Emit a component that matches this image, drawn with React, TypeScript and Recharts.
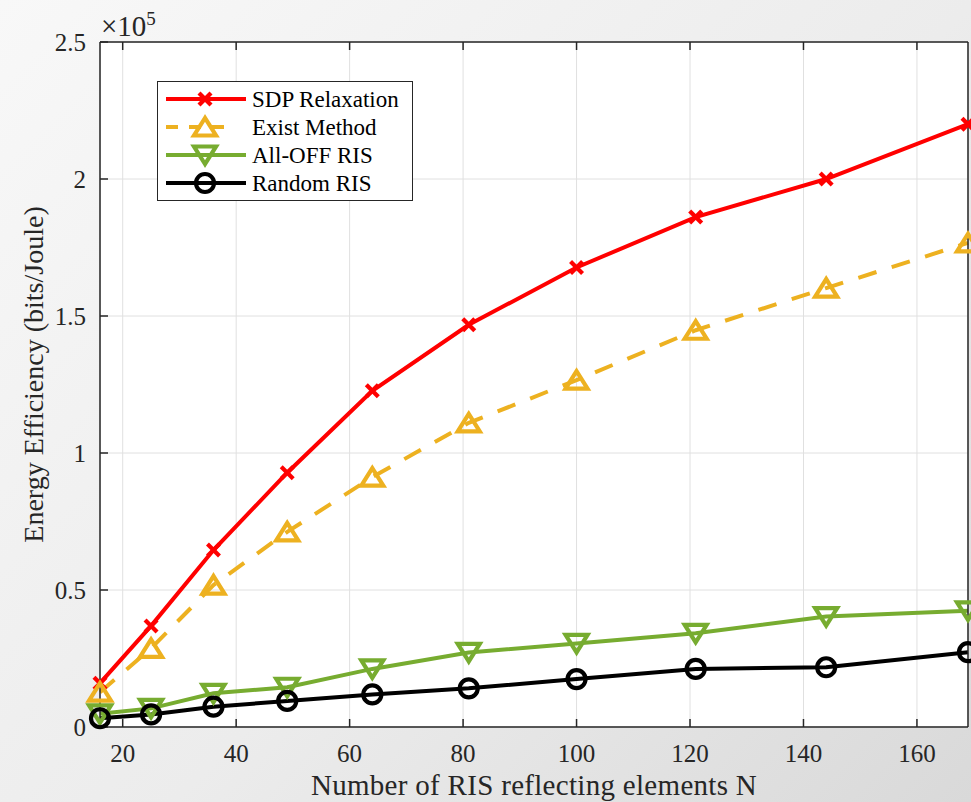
import React from "react";
import {
  LineChart,
  Line,
  XAxis,
  YAxis,
  CartesianGrid,
  Legend,
  Label,
} from "recharts";

const N_VALUES = [16, 25, 36, 49, 64, 81, 100, 121, 144, 169];
const SDP_RELAXATION = [16000, 36900, 64600, 92800, 122700, 146800, 167700, 186100, 200000, 220000];
const EXIST_METHOD = [12700, 28700, 51800, 71200, 91200, 111000, 126600, 144800, 160200, 176700];
const ALL_OFF_RIS = [4800, 6800, 12300, 14500, 21200, 27200, 30500, 34200, 40300, 42400];
const RANDOM_RIS = [3200, 4600, 7400, 9500, 11900, 14100, 17500, 21200, 21800, 27300];

const X_TICKS = [20, 40, 60, 80, 100, 120, 140, 160];
const Y_TICKS = [0, 50000, 100000, 150000, 200000, 250000];

const FONT = '"Liberation Serif", "Times New Roman", serif';
const AXIS_COLOR = "#262626";

const data = N_VALUES.map((n, i) => ({
  n,
  sdp: SDP_RELAXATION[i],
  exist: EXIST_METHOD[i],
  off: ALL_OFF_RIS[i],
  rnd: RANDOM_RIS[i],
}));

type MarkerKind = "cross" | "up" | "down" | "circle";

function Marker({ kind, cx, cy, color }: { kind: MarkerKind; cx: number; cy: number; color: string }) {
  const sw = 4.2;
  if (kind === "cross") {
    const s = 6;
    return (
      <g stroke={color} strokeWidth={sw}>
        <line x1={cx - s} y1={cy - s} x2={cx + s} y2={cy + s} />
        <line x1={cx - s} y1={cy + s} x2={cx + s} y2={cy - s} />
      </g>
    );
  }
  if (kind === "up") {
    return (
      <polygon
        points={`${cx},${cy - 9} ${cx - 11},${cy + 8.5} ${cx + 11},${cy + 8.5}`}
        fill="none"
        stroke={color}
        strokeWidth={sw}
      />
    );
  }
  if (kind === "down") {
    return (
      <polygon
        points={`${cx},${cy + 9} ${cx - 11},${cy - 8.5} ${cx + 11},${cy - 8.5}`}
        fill="none"
        stroke={color}
        strokeWidth={sw}
      />
    );
  }
  return <circle cx={cx} cy={cy} r={9} fill="none" stroke={color} strokeWidth={sw} />;
}

const SERIES = [
  { key: "sdp", name: "SDP Relaxation", color: "#ff0000", marker: "cross" as MarkerKind, dash: undefined },
  { key: "exist", name: "Exist Method", color: "#EDB120", marker: "up" as MarkerKind, dash: "19 16" },
  { key: "off", name: "All-OFF RIS", color: "#77AC30", marker: "down" as MarkerKind, dash: undefined },
  { key: "rnd", name: "Random RIS", color: "#000000", marker: "circle" as MarkerKind, dash: undefined },
];

function LegendBox() {
  return (
    <div
      style={{
        width: 254,
        background: "#fff",
        border: `1px solid ${AXIS_COLOR}`,
        padding: "3px 0",
        fontFamily: FONT,
        fontSize: 23,
        color: "#000",
        lineHeight: 1,
      }}
    >
      {SERIES.map((s) => (
        <div key={s.key} style={{ display: "flex", alignItems: "center", height: 28 }}>
          <svg width={94} height={28} style={{ flexShrink: 0 }}>
            <line
              x1={8}
              y1={14}
              x2={s.dash ? 68 : 88}
              y2={14}
              stroke={s.color}
              strokeWidth={4}
              strokeDasharray={s.dash ? "12 11" : undefined}
            />
            <Marker kind={s.marker} cx={47} cy={14} color={s.color} />
          </svg>
          <span style={{ whiteSpace: "nowrap" }}>{s.name}</span>
        </div>
      ))}
    </div>
  );
}

export default function App() {
  const tickStyle = { fontFamily: FONT, fontSize: 25, fill: AXIS_COLOR };
  return (
    <div
      style={{
        position: "absolute",
        left: 0,
        top: 0,
        width: 971,
        height: 802,
        background: "linear-gradient(135deg, #f8f8f8 0%, #ececec 55%, #d9d9d9 100%)",
        overflow: "hidden",
      }}
    >
      <LineChart width={971} height={802} data={data} margin={{ top: 30, right: 0, bottom: 0, left: 0 }}>
        <CartesianGrid stroke="#e0e0e0" strokeWidth={1} fill="#ffffff" xAxisId="b" yAxisId="l" />
        <XAxis
          xAxisId="b"
          dataKey="n"
          type="number"
          domain={[16, 169]}
          ticks={X_TICKS}
          interval={0}
          height={75}
          tickSize={-8}
          tickMargin={25}
          stroke={AXIS_COLOR}
          strokeWidth={1.5}
          tick={tickStyle}
        >
          <Label
            value="Number of RIS reflecting elements N"
            position="insideBottom"
            offset={7}
            style={{ fontFamily: FONT, fontSize: 29, fill: AXIS_COLOR, letterSpacing: 0.3 }}
          />
        </XAxis>
        <XAxis
          xAxisId="t"
          dataKey="n"
          type="number"
          orientation="top"
          domain={[16, 169]}
          ticks={X_TICKS}
          interval={0}
          height={12}
          tickSize={-8}
          stroke={AXIS_COLOR}
          strokeWidth={1.5}
          tickFormatter={() => ""}
        />
        <YAxis
          yAxisId="l"
          type="number"
          domain={[0, 250000]}
          ticks={Y_TICKS}
          interval={0}
          width={100}
          tickSize={-8}
          tickMargin={22}
          stroke={AXIS_COLOR}
          strokeWidth={1.5}
          tick={tickStyle}
          tickFormatter={(v: number) => String(v / 100000)}
        >
          <Label
            value="Energy Efficiency (bits/Joule)"
            angle={-90}
            position="insideLeft"
            offset={33}
            dy={-10}
            style={{ fontFamily: FONT, fontSize: 28, fill: AXIS_COLOR, textAnchor: "middle" }}
          />
        </YAxis>
        <YAxis
          yAxisId="r"
          orientation="right"
          type="number"
          domain={[0, 250000]}
          ticks={Y_TICKS}
          interval={0}
          width={3}
          tickSize={-8}
          stroke={AXIS_COLOR}
          strokeWidth={1.5}
          tickFormatter={() => ""}
        />
        <Legend
          layout="horizontal"
          verticalAlign="middle"
          align="center"
          wrapperStyle={{ top: 81, left: 157, width: 256 }}
          content={() => <LegendBox />}
        />
        {SERIES.map((s) => (
          <Line
            key={s.key}
            xAxisId="b"
            yAxisId="l"
            type="linear"
            dataKey={s.key}
            name={s.name}
            stroke={s.color}
            strokeWidth={4}
            strokeDasharray={s.dash}
            isAnimationActive={false}
            activeDot={false}
            dot={(p: any) => <Marker key={`${s.key}-${p.index}`} kind={s.marker} cx={p.cx} cy={p.cy} color={s.color} />}
          />
        ))}
      </LineChart>
      <div
        style={{
          position: "absolute",
          left: 101,
          top: 12,
          fontFamily: FONT,
          fontSize: 29,
          color: AXIS_COLOR,
          whiteSpace: "nowrap",
          lineHeight: 1,
        }}
      >
        ×10
        <span style={{ fontSize: 19, position: "relative", top: -11 }}>5</span>
      </div>
    </div>
  );
}
